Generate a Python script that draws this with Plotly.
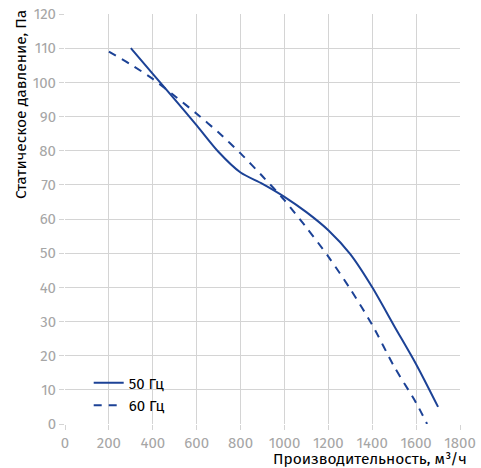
import plotly.graph_objects as go

x50 = [300, 400, 500, 600, 700, 800, 900, 1000, 1100, 1200, 1300, 1400, 1500, 1600, 1700]
y50 = [110, 102.5, 95, 87.4, 79.6, 73.6, 70.3, 66.5, 62, 56.7, 49.7, 40, 28.7, 17.5, 5]

x60 = [200, 300, 400, 500, 600, 700, 800, 900, 1000, 1100, 1200, 1300, 1400, 1500, 1600, 1650]
y60 = [109, 105.2, 101, 96, 90.8, 85.3, 79.2, 72.5, 65.5, 57.5, 49, 39.5, 29, 16.8, 6.2, 0]

xticks = [0, 200, 400, 600, 800, 1000, 1200, 1400, 1600, 1800]
yticks = [0, 10, 20, 30, 40, 50, 60, 70, 80, 90, 100, 110, 120]

x_title = "Производительность, м³/ч"
y_title = "Статическое давление, Па"

color = "#1c4296"
font = "Fira Sans, Noto Sans, Roboto, sans-serif"

fig = go.Figure()
fig.add_trace(go.Scatter(x=x50, y=y50, mode="lines", name="50 Гц",
                         line=dict(color=color, width=2, shape="spline", smoothing=0.8)))
fig.add_trace(go.Scatter(x=x60, y=y60, mode="lines", name="60 Гц",
                         line=dict(color=color, width=2, dash="8px,7px", shape="spline", smoothing=0.8)))

fig.update_layout(
    width=481, height=468,
    margin=dict(l=65, r=21, t=14, b=44),
    paper_bgcolor="white", plot_bgcolor="white",
    font=dict(family=font, size=15, color="#000000"),
    showlegend=True,
    legend=dict(x=0.06, y=0.14, xanchor="left", yanchor="top",
                bgcolor="rgba(0,0,0,0)", font=dict(size=15, color="#000"),
                tracegroupgap=2),
    annotations=[
        dict(text=x_title, xref="paper", yref="paper", x=1.02, y=-0.086,
             xanchor="right", yanchor="middle", showarrow=False, borderpad=0,
             font=dict(size=15.5, color="#000")),
        dict(text=y_title, xref="paper", yref="paper", x=-0.113, y=1.012,
             xanchor="center", yanchor="top", showarrow=False, textangle=-90, borderpad=0,
             font=dict(size=15.5, color="#000")),
    ],
)
fig.update_xaxes(range=[0, 1800], tickvals=xticks, showgrid=True, gridcolor="#d4d4d4", gridwidth=1,
                 zeroline=False, showline=False, ticks="outside", ticklen=5, tickcolor="#d4d4d4",
                 tickfont=dict(color="#a6a6a6", size=15), automargin=False)
fig.update_yaxes(range=[0, 120], tickvals=yticks, showgrid=True, gridcolor="#d4d4d4", gridwidth=1,
                 zeroline=False, showline=False, ticks="outside", ticklen=5, tickcolor="#d4d4d4",
                 tickfont=dict(color="#a6a6a6", size=15), automargin=False)

fig.write_html("out.html", config={"displayModeBar": False},
               post_script="document.body.style.margin='0';")
